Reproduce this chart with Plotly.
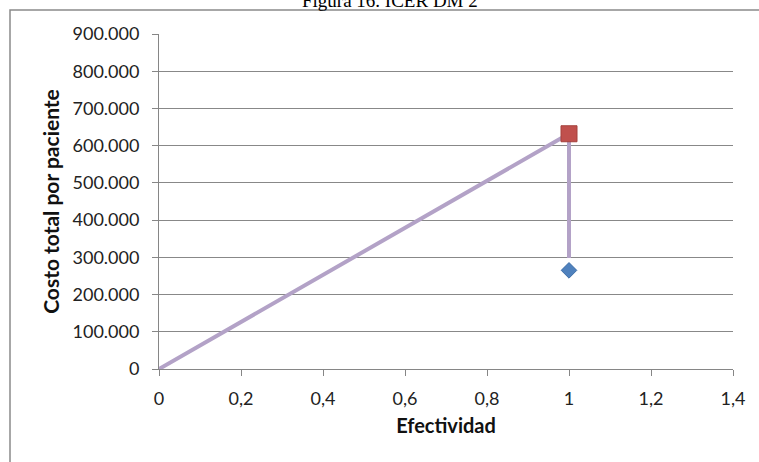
import plotly.graph_objects as go

# Data
line_x = [0, 1, 1]
line_y = [0, 632000, 298000]
square_x = [1]
square_y = [632000]
diamond_x = [1]
diamond_y = [265000]
x_ticks = [0, 0.2, 0.4, 0.6, 0.8, 1, 1.2, 1.4]
y_ticks = [0, 100000, 200000, 300000, 400000, 500000, 600000, 700000, 800000, 900000]

W, H = 759, 462
L, R, T, B = 159, 26, 34, 93
pw, ph = W - L - R, H - T - B

def px2x(p):
    return (p - L) / pw

def py2y(p):
    return (H - B - p) / ph

fig = go.Figure()
fig.add_trace(go.Scatter(x=line_x, y=line_y, mode="lines",
                         line=dict(color="#B3A2C7", width=4), showlegend=False, hoverinfo="skip"))
fig.add_trace(go.Scatter(x=diamond_x, y=diamond_y, mode="markers",
                         marker=dict(symbol="diamond", size=12, color="#4F81BD",
                                     line=dict(color="#3F6FA8", width=1)), showlegend=False))
fig.add_trace(go.Scatter(x=square_x, y=square_y, mode="markers",
                         marker=dict(symbol="square", size=16, color="#C0504D",
                                     line=dict(color="#A5403D", width=1)), showlegend=False))

font_family = "Lato, Carlito, Calibri, sans-serif"

fig.update_layout(
    width=W, height=H,
    margin=dict(l=L, r=R, t=T, b=B),
    paper_bgcolor="white", plot_bgcolor="white",
    separators=",.",
    font=dict(family=font_family, size=18, color="#222"),
    xaxis=dict(range=[0, 1.4], tickvals=x_ticks, showgrid=False, zeroline=False,
               showline=True, linecolor="#868686", linewidth=1,
               ticks="outside", ticklen=6, tickcolor="#868686", ticklabelstandoff=7,
               tickfont=dict(size=18, color="#222"),
               title=dict(text="<b>Efectividad</b>", font=dict(size=20, color="#111"), standoff=11)),
    yaxis=dict(range=[0, 900000], tickvals=y_ticks, tickformat=",d",
               showgrid=True, gridcolor="#888888", gridwidth=1, zeroline=False,
               showline=True, linecolor="#868686", linewidth=1,
               ticks="outside", ticklen=6, tickcolor="#868686", ticklabelstandoff=9,
               tickfont=dict(size=18, color="#222"),
               title=dict(text="<b>Costo total por paciente</b>", font=dict(size=21, color="#111"), standoff=7)),
    shapes=[dict(type="rect", xref="paper", yref="paper",
                 x0=px2x(10), x1=px2x(780), y0=py2y(480), y1=py2y(10),
                 line=dict(color="#8a8a8a", width=1.5), fillcolor="rgba(0,0,0,0)", layer="below")],
    annotations=[dict(text="Figura 16. ICER DM 2", xref="paper", yref="paper",
                      x=px2x(390), y=py2y(13), xanchor="center", yanchor="bottom",
                      showarrow=False,
                      font=dict(family="Liberation Serif, Times New Roman, serif", size=19, color="black"))],
)

fig.write_html("out.html")
